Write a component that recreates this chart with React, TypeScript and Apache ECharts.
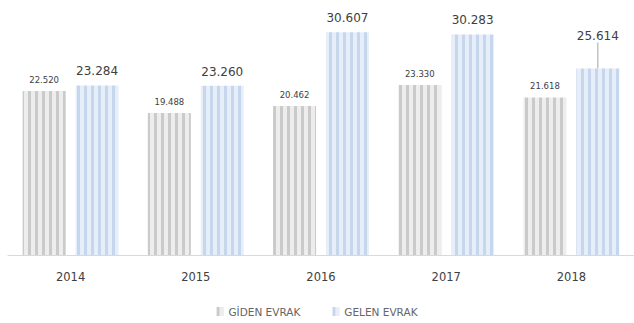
import React, { useEffect, useRef } from "react";
import * as echarts from "echarts";

const categories = ["2014", "2015", "2016", "2017", "2018"];
const gidenValues = [22520, 19488, 20462, 23330, 21618];
const gelenValues = [23284, 23260, 30607, 30283, 25614];
const seriesNames = ["GİDEN EVRAK", "GELEN EVRAK"];

function stripes(bg: string, fg: string) {
  const c = document.createElement("canvas");
  c.width = 7;
  c.height = 7;
  const ctx = c.getContext("2d")!;
  ctx.fillStyle = bg;
  ctx.fillRect(0, 0, 7, 7);
  ctx.fillStyle = fg;
  ctx.fillRect(0, 0, 3, 7);
  return c;
}

const fmt = (v: number) => {
  const s = String(v);
  return s.slice(0, s.length - 3) + "." + s.slice(-3);
};

export default function App() {
  const ref = useRef<HTMLDivElement>(null);
  useEffect(() => {
    const chart = echarts.init(ref.current!, null, { renderer: "svg" });
    const gidenPat = { image: stripes("#ededed", "#cacaca"), repeat: "repeat" };
    const gelenPat = { image: stripes("#e6eef9", "#c6d6ec"), repeat: "repeat" };
    chart.setOption({
      animation: false,
      textStyle: { fontFamily: "DejaVu Sans" },
      grid: { left: 8, right: 0, top: 30, bottom: 68 },
      legend: {
        bottom: 1,
        left: "center",
        itemWidth: 7,
        itemHeight: 9,
        itemGap: 32,
        icon: "rect",
        textStyle: { fontSize: 10.5, color: "#666666", fontFamily: "DejaVu Sans" },
        data: seriesNames,
      },
      xAxis: {
        type: "category",
        data: categories,
        axisLine: { lineStyle: { color: "#d9d9d9" } },
        axisTick: { show: false },
        axisLabel: { fontSize: 11.5, color: "#404040", margin: 16, fontFamily: "DejaVu Sans" },
      },
      yAxis: { type: "value", min: 0, max: 30900, show: false, splitLine: { show: false } },
      series: [
        {
          name: seriesNames[0],
          type: "bar",
          barWidth: 43,
          barGap: "23%",
          itemStyle: { color: gidenPat },
          label: {
            show: true,
            position: "top",
            distance: 7,
            fontSize: 8.5,
            color: "#404040",
            formatter: (p: any) => fmt(p.value),
          },
          data: gidenValues,
        },
        {
          name: seriesNames[1],
          type: "bar",
          barWidth: 43,
          itemStyle: { color: gelenPat },
          label: {
            show: true,
            position: "top",
            distance: 8,
            fontSize: 12,
            color: "#404040",
            formatter: (p: any) => fmt(p.value),
          },
          labelLayout: (params: any) =>
            params.dataIndex === 4 ? { dy: -18 } : {},
          data: gelenValues.map((v, i) =>
            i === 4
              ? { value: v, labelLine: { show: true, lineStyle: { color: "#a6a6a6", width: 1 } } }
              : v
          ),
        },
      ],
    });
    return () => chart.dispose();
  }, []);
  return (
    <div
      ref={ref}
      style={{ position: "absolute", left: 0, top: 0, width: 634, height: 323 }}
    />
  );
}
